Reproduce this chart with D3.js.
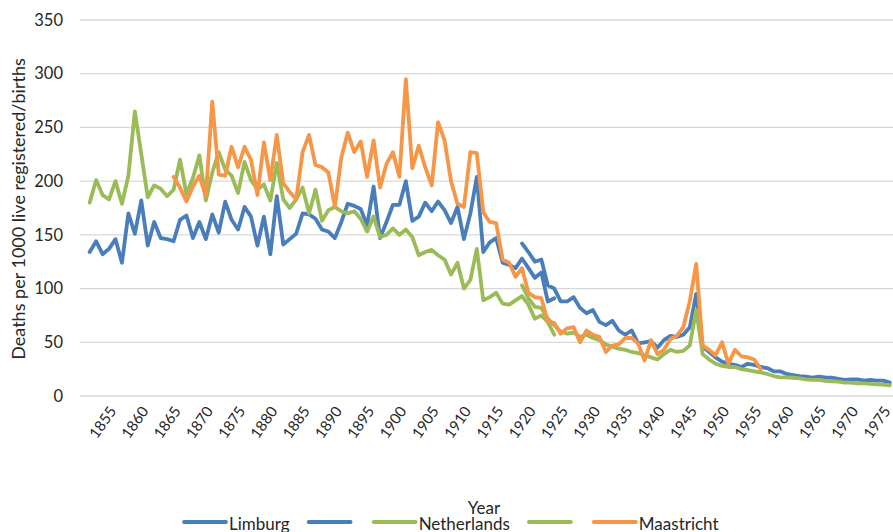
<!DOCTYPE html>
<html>
<head>
<meta charset="utf-8">
<script src="https://cdn.jsdelivr.net/npm/d3@7"></script>
<style>
  html, body { margin: 0; padding: 0; background: #ffffff; }
  svg { display: block; }
  text { font-family: Lato, "Open Sans", sans-serif; fill: #262626; }
</style>
</head>
<body>
<svg id="chart" width="893" height="532"></svg>
<script>
// ---- data ----
const firstYear = 1850;
const lastYear = 1975;
const tickYears = [1855,1860,1865,1870,1875,1880,1885,1890,1895,1900,1905,1910,1915,1920,1925,1930,1935,1940,1945,1950,1955,1960,1965,1970,1975];
const yTicks = [0,50,100,150,200,250,300,350];

const limburg1Start = 1851;
const limburg1 = [134,144,132,137,146,124,170,151,182,140,
  162,147,146,144,164,168,147,162,146,169,
  152,181,164,155,176,167,140,167,132,186,
  141,146,151,170,169,165,155,153,147,162,
  179,177,174,159,195,147,162,178,178,200,
  163,167,180,172,181,173,161,176,146,170,
  204,134,143,147,124,122,119,128,119,110,
  115,88,91];

const limburg2Start = 1918;
const limburg2 = [142,134,125,127,103,100,88,88,92,82,
  77,80,69,66,70,61,57,61,49,50,
  51,45,52,56,55,57,64,95,46,41,
  36,32,30,29,27,30,29,27,26,23,
  23,20.5,19.5,18.6,18,17,18,17.3,17,16,
  15,15.5,15.5,14.3,15,14.3,14.3,12.4];

const netherlands1Start = 1851;
const netherlands1 = [180,201,187,183,200,179,205,265,225,185,
  196,193,186,192,220,188,203,224,182,208,
  227,211,205,189,218,201,192,197,182,217,
  183,175,183,194,170,192,163,173,176,172,
  170,172,165,153,167,148,150,156,150,155,
  148,131,134,136,131,127,113,124,100,108,
  137,89,92,96,86,85,89,93,85,72,
  75,69,57];

const netherlands2Start = 1918;
const netherlands2 = [103,91,83,82,72,66,60,58,59,55,
  57,54,52,48,46,44,43,41,40,38,
  36,34,39,43,41,42,47,80,39,34,
  30,28,27,27,25,24,23,22,20.5,18.6,
  17.4,17.4,17,16.4,15.5,15,15,14,13.7,13.3,
  12.4,12.4,11.8,11.8,11.2,10.9,10.6,10];

const maastrichtStart = 1864;
const maastricht = [204,194,181,195,205,186,274,206,205,232,
  213,232,220,187,236,201,243,198,190,183,
  227,243,215,213,208,176,222,245,227,237,
  204,238,194,216,227,204,295,212,233,213,
  196,255,238,200,179,176,227,226,171,162,
  161,127,124,111,119,96,92,91,69,68,
  58,63,64,50,61,57,55,41,47,48,
  54,54,49,33,52,39,43,53,56,64,
  88,123,47,43,38,50,30,43,37,36,
  34,25];

const seriesNames = ["Limburg", "", "Netherlands", "", "Maastricht"];
const seriesColors = ["#4a7ebb", "#4a7ebb", "#9bbb59", "#9bbb59", "#f79646"];
const seriesStarts = [limburg1Start, limburg2Start, netherlands1Start, netherlands2Start, maastrichtStart];
const seriesValues = [limburg1, limburg2, netherlands1, netherlands2, maastricht];

const yTitle = "Deaths per 1000 live registered/births";
const xTitle = "Year";

// ---- layout ----
const svg = d3.select("#chart");
const plot = { left: 80, right: 893, top: 20, bottom: 396 };

const years = d3.range(firstYear, lastYear + 1);
const x = d3.scalePoint().domain(years).range([plot.left, plot.right]).padding(0.5);
const y = d3.scaleLinear().domain([0, 350]).range([plot.bottom, plot.top]);

// gridlines
svg.append("g")
  .selectAll("line")
  .data(yTicks)
  .join("line")
  .attr("x1", plot.left).attr("x2", plot.right)
  .attr("y1", d => y(d)).attr("y2", d => y(d))
  .attr("stroke", "#d9d9d9").attr("stroke-width", 1.3);

// y axis labels
const yAxis = d3.axisLeft(y).tickValues(yTicks).tickSize(0).tickPadding(0);
const gy = svg.append("g").attr("transform", `translate(${63},0)`).call(yAxis);
gy.select(".domain").remove();
gy.selectAll("text").style("font-size", "16.5px").style("font-family", "Lato, sans-serif").attr("fill", "#262626");

// x axis labels
const xAxis = d3.axisBottom(x).tickValues(tickYears).tickSize(0).tickPadding(0);
const gx = svg.append("g").attr("transform", `translate(0,${plot.bottom})`).call(xAxis);
gx.select(".domain").remove();
gx.selectAll("text")
  .style("font-size", "15px").style("font-family", "Lato, sans-serif").attr("fill", "#262626")
  .attr("text-anchor", "end")
  .attr("dy", "0")
  .attr("y", 0)
  .attr("transform", "translate(1,15) rotate(-55)");

// lines
const line = d3.line()
  .x(d => x(d.year))
  .y(d => y(d.value));

seriesValues.forEach((vals, i) => {
  const pts = vals.map((v, k) => ({ year: seriesStarts[i] + k, value: v }));
  svg.append("path")
    .datum(pts)
    .attr("fill", "none")
    .attr("stroke", seriesColors[i])
    .attr("stroke-width", 3.8)
    .attr("stroke-linejoin", "round")
    .attr("stroke-linecap", "round")
    .attr("d", line);
});

// y title
svg.append("text")
  .attr("transform", `translate(25,209) rotate(-90)`)
  .attr("text-anchor", "middle")
  .style("font-size", "18px")
  .text(yTitle);

// x title
svg.append("text")
  .attr("x", 484).attr("y", 514)
  .attr("text-anchor", "middle")
  .style("font-size", "17px")
  .text(xTitle);

// legend
const legend = svg.append("g").attr("transform", "translate(184,522)");
let lx = 0;
seriesNames.forEach((name, i) => {
  legend.append("line")
    .attr("x1", lx).attr("x2", lx + 42)
    .attr("y1", 0).attr("y2", 0)
    .attr("stroke", seriesColors[i]).attr("stroke-width", 3.8).attr("stroke-linecap", "round");
  lx += 45;
  if (name) {
    const t = legend.append("text")
      .attr("x", lx).attr("y", 8)
      .style("font-size", "17px")
      .text(name);
    lx += t.node().getComputedTextLength() + 19;
  } else {
    lx += 20;
  }
});
</script>
</body>
</html>
